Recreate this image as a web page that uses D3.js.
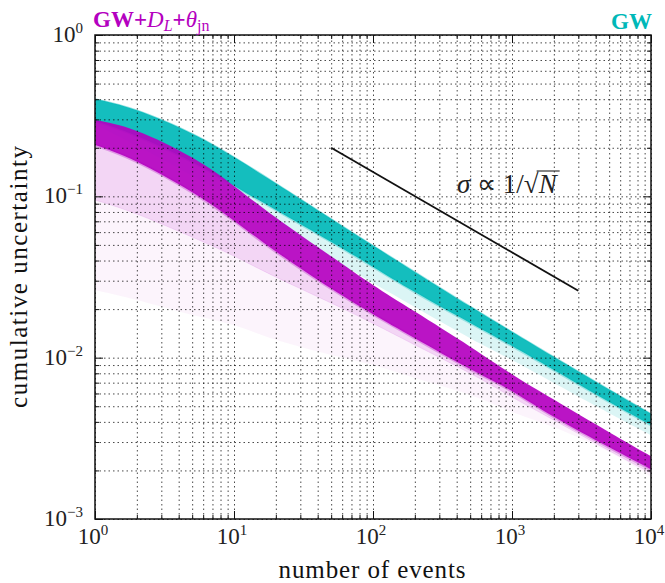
<!DOCTYPE html>
<html><head><meta charset="utf-8">
<script src="https://cdn.jsdelivr.net/npm/d3@7"></script>
<style>
body{margin:0;background:#fff}
svg{display:block;background:#fff}
</style></head><body>
<svg id="chart" width="665" height="583"></svg>
<script>
// number of events at which the cumulative uncertainty envelopes are sampled
const nEvents = [1, 2, 5, 10, 20, 50, 100, 200, 500, 1000, 2000, 5000, 10000];

// GW-only ensemble: upper edge, lower edge of the dense core, faint lower tail
const gwUpper     = [0.401, 0.3413, 0.2446, 0.1752, 0.1204, 0.0725, 0.0495, 0.0340, 0.0208, 0.01447, 0.01012, 0.00634, 0.00449];
const gwCoreLower = [0.2929, 0.2365, 0.1632, 0.1159, 0.0823, 0.0521, 0.0365, 0.0255, 0.0164, 0.0118, 0.00838, 0.00531, 0.00382];
const gwTail      = [0.2768, 0.2051, 0.1336, 0.0948, 0.0664, 0.0414, 0.0290, 0.0206, 0.0132, 0.00966, 0.00696, 0.00453, 0.00331];

// GW + D_L + theta_jn ensemble
const jointUpper     = [0.2972, 0.2543, 0.1740, 0.1160, 0.0740, 0.0425, 0.0282, 0.0193, 0.0117, 0.0079, 0.0055, 0.00345, 0.00245];
const jointCoreLower = [0.2080, 0.1639, 0.1060, 0.0707, 0.0455, 0.0268, 0.0186, 0.0132, 0.0085, 0.0062, 0.0043, 0.00278, 0.00203];
const jointSpread    = [0.0948, 0.0777, 0.0559, 0.0426, 0.0316, 0.0218, 0.0163, 0.0120, 0.0080, 0.0057, 0.0041, 0.00265, 0.00193];
const jointTail      = [0.0262, 0.0228, 0.0184, 0.0159, 0.0129, 0.0104, 0.0090, 0.00748, 0.00586, 0.00460, 0.00370, 0.00260, 0.00182];

// reference slope line sigma ~ 1/sqrt(N)
const refN = [50, 3000];
const refSigma = [0.2, 0.026];

// tick labels
const xTickExp = ["0", "1", "2", "3", "4"];
const yTickExp = ["0", "\u22121", "\u22122", "\u22123"];

const W = 665, H = 583;
const margin = {left: 95, right: 14, top: 35, bottom: 64};
const iw = W - margin.left - margin.right, ih = H - margin.top - margin.bottom;
const teal = "#00b8b8", magenta = "#b400c0";
const serif = "'Liberation Serif','Times New Roman',serif";

const svg = d3.select("#chart");
const g = svg.append("g").attr("transform", `translate(${margin.left},${margin.top})`);

const x = d3.scaleLog().domain([1, 1e4]).range([0, iw]);
const y = d3.scaleLog().domain([1e-3, 1]).range([ih, 0]);

g.append("clipPath").attr("id", "plotclip").append("rect").attr("width", iw).attr("height", ih);
const plot = g.append("g").attr("clip-path", "url(#plotclip)");

const curve = d3.curveNatural;
function band(lo, hi) {
  return d3.area().curve(curve)
    .x((d, i) => x(nEvents[i]))
    .y0((d, i) => y(lo[i]))
    .y1((d, i) => y(hi[i]))(nEvents);
}
const edge = vals => d3.line().curve(curve)
  .x((d, i) => x(nEvents[i])).y((d, i) => y(vals[i]))(nEvents);

// GW-only band
plot.append("path").attr("d", band(gwTail, gwCoreLower)).attr("fill", teal).attr("opacity", 0.14);
plot.append("path").attr("d", band(gwCoreLower, gwUpper)).attr("fill", teal).attr("opacity", 0.92);
plot.append("path").attr("d", edge(gwUpper)).attr("fill", "none")
  .attr("stroke", teal).attr("stroke-width", 1.5).attr("opacity", 0.4);
plot.append("path").attr("d", edge(gwCoreLower)).attr("fill", "none")
  .attr("stroke", teal).attr("stroke-width", 2.5).attr("opacity", 0.3);

// GW + D_L + theta_jn band
plot.append("path").attr("d", band(jointTail, jointSpread)).attr("fill", magenta).attr("opacity", 0.045);
plot.append("path").attr("d", band(jointSpread, jointCoreLower)).attr("fill", magenta).attr("opacity", 0.16);
plot.append("path").attr("d", band(jointCoreLower, jointUpper)).attr("fill", magenta).attr("opacity", 0.92);
plot.append("path").attr("d", edge(jointCoreLower)).attr("fill", "none")
  .attr("stroke", magenta).attr("stroke-width", 3).attr("opacity", 0.3);
plot.append("path").attr("d", edge(jointSpread)).attr("fill", "none")
  .attr("stroke", magenta).attr("stroke-width", 1).attr("opacity", 0.1);

// decade and sub-decade tick positions
const xMajor = d3.range(0, 5).map(k => Math.pow(10, k));
const yMajor = d3.range(-3, 1).map(k => Math.pow(10, k));
const minorOf = majors => majors.slice(0, -1).flatMap(m => d3.range(2, 10).map(j => j * m));
const xMinor = minorOf(xMajor), yMinor = minorOf(yMajor);

// dotted grid on every tick
const gridStyle = sel => {
  sel.select(".domain").remove();
  sel.selectAll(".tick line").attr("stroke", "#000").attr("stroke-width", 0.9)
    .attr("stroke-dasharray", "1.5,3").attr("opacity", 0.8);
};
g.append("g").attr("transform", `translate(0,${ih})`)
  .call(d3.axisBottom(x).tickValues(xMajor.concat(xMinor)).tickSize(-ih).tickFormat(""))
  .call(gridStyle);
g.append("g")
  .call(d3.axisLeft(y).tickValues(yMajor.concat(yMinor)).tickSize(-iw).tickFormat(""))
  .call(gridStyle);

// reference line
g.append("path")
  .attr("d", d3.line().x((d, i) => x(refN[i])).y((d, i) => y(refSigma[i]))(refN))
  .attr("stroke", "#111").attr("stroke-width", 1.8).attr("fill", "none");

// inward ticks on all four sides
const tickStyle = sel => {
  sel.select(".domain").remove();
  sel.selectAll(".tick line").attr("stroke", "#111").attr("stroke-width", 1);
};
const sides = [
  [d3.axisBottom, x, `translate(0,${ih})`],
  [d3.axisTop, x, "translate(0,0)"],
  [d3.axisLeft, y, "translate(0,0)"],
  [d3.axisRight, y, `translate(${iw},0)`]
];
sides.forEach(([ax, sc, tr]) => {
  const majors = sc === x ? xMajor : yMajor, minors = sc === x ? xMinor : yMinor;
  g.append("g").attr("transform", tr).call(ax(sc).tickValues(majors).tickSize(-8).tickFormat("")).call(tickStyle);
  g.append("g").attr("transform", tr).call(ax(sc).tickValues(minors).tickSize(-4).tickFormat("")).call(tickStyle);
});

// frame
g.append("rect").attr("width", iw).attr("height", ih)
  .attr("fill", "none").attr("stroke", "#111").attr("stroke-width", 1.5);

// power-of-ten tick labels
function powLabel(sel, exp) {
  sel.append("tspan").text("10");
  sel.append("tspan").attr("dy", -9).attr("font-size", 15).text(exp);
}
xMajor.forEach((v, i) => {
  g.append("text").attr("x", x(v) - 2).attr("y", ih + 25)
    .attr("text-anchor", "middle").attr("font-family", serif).attr("font-size", 23).attr("fill", "#222")
    .call(powLabel, xTickExp[i]);
});
yMajor.slice().reverse().forEach((v, i) => {
  g.append("text").attr("x", -12).attr("y", y(v) + 7)
    .attr("text-anchor", "end").attr("font-family", serif).attr("font-size", 23).attr("fill", "#222")
    .call(powLabel, yTickExp[i]);
});

// axis titles
svg.append("text").attr("x", 372).attr("y", 578)
  .attr("text-anchor", "middle").attr("font-family", serif).attr("font-size", 25).attr("fill", "#111")
  .attr("textLength", 187).text("number of events");
svg.append("text").attr("transform", `translate(27,${margin.top + ih / 2}) rotate(-90)`)
  .attr("text-anchor", "middle").attr("font-family", serif).attr("font-size", 25).attr("fill", "#111")
  .attr("textLength", 262).text("cumulative uncertainty");

// ensemble labels above the frame
const lt = svg.append("text").attr("x", 93).attr("y", 27)
  .attr("font-family", serif).attr("font-size", 23).attr("fill", magenta);
lt.append("tspan").attr("font-weight", "bold").text("GW+");
lt.append("tspan").attr("font-style", "italic").text("D");
lt.append("tspan").attr("font-style", "italic").attr("font-size", 16).attr("dy", 4).text("L");
lt.append("tspan").attr("font-weight", "bold").attr("dy", -4).text("+");
lt.append("tspan").attr("font-style", "italic").text("\u03b8");
lt.append("tspan").attr("font-size", 16).attr("dy", 4).text("jn");

svg.append("text").attr("x", 652).attr("y", 29).attr("text-anchor", "end")
  .attr("font-family", serif).attr("font-size", 23).attr("font-weight", "bold").attr("fill", teal)
  .text("GW");

// sigma proportional to 1/sqrt(N)
const st = svg.append("text").attr("x", 457).attr("y", 193)
  .attr("font-family", serif).attr("font-size", 27).attr("fill", "#222");
st.append("tspan").attr("font-style", "italic").text("\u03c3");
st.append("tspan").text(" \u221d 1/\u221a");
const nSpan = st.append("tspan").attr("font-style", "italic").text("N");
const nb = nSpan.node().getBBox();
svg.append("line").attr("x1", nb.x - 1).attr("x2", nb.x + nb.width + 1)
  .attr("y1", nb.y + 2).attr("y2", nb.y + 2)
  .attr("stroke", "#222").attr("stroke-width", 1.1);
</script>
</body></html>
